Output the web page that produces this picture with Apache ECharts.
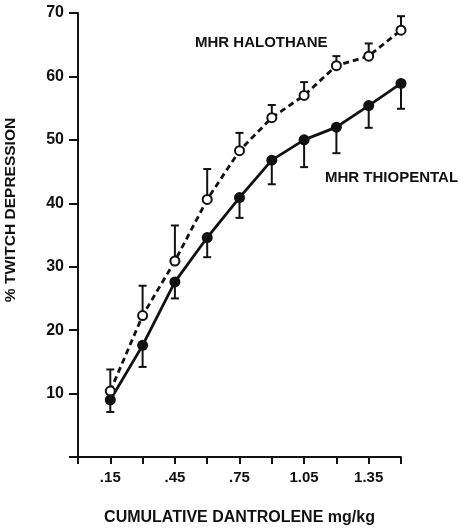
<!DOCTYPE html>
<html>
<head>
<meta charset="utf-8">
<script src="https://cdn.jsdelivr.net/npm/echarts@6/dist/echarts.min.js"></script>
<style>
  html, body { margin: 0; padding: 0; background: #fff; }
  #chart { width: 463px; height: 531px; }
</style>
</head>
<body>
<div id="chart"></div>
<script>
// dantrolene doses (mg/kg)
const doses = [0.15, 0.30, 0.45, 0.60, 0.75, 0.90, 1.05, 1.20, 1.35, 1.50];
// MHR halothane, mean and top of error bar
const halothane = [10.4, 22.3, 30.9, 40.6, 48.3, 53.5, 57.0, 61.7, 63.2, 67.3];
const halothaneUpper = [13.8, 27.0, 36.5, 45.4, 51.1, 55.5, 59.1, 63.2, 65.2, 69.5];
// MHR thiopental, mean and bottom of error bar
const thiopental = [9.0, 17.6, 27.6, 34.6, 40.9, 46.8, 50.0, 52.0, 55.4, 58.9];
const thiopentalLower = [7.1, 14.2, 25.0, 31.5, 37.7, 43.0, 45.7, 47.9, 51.9, 54.9];
const xLabels = ['.15', '.45', '.75', '1.05', '1.35'];

const font = '"Liberation Sans", Arial, Helvetica, sans-serif';
const chart = echarts.init(document.getElementById('chart'));

// error bar with a cap on one end
const errorBar = (params, api) => {
  const x = api.value(0);
  const p0 = api.coord([x, api.value(1)]);
  const p1 = api.coord([x, api.value(2)]);
  const style = { stroke: '#111', lineWidth: 2 };
  return {
    type: 'group',
    children: [
      { type: 'line', shape: { x1: p0[0], y1: p0[1], x2: p1[0], y2: p1[1] }, style },
      { type: 'line', shape: { x1: p1[0] - 4, y1: p1[1], x2: p1[0] + 4, y2: p1[1] }, style }
    ]
  };
};

const pairs = (ys) => doses.map((d, i) => [d, ys[i]]);

const option = {
  animation: false,
  grid: { left: 78, right: 62, top: 13, bottom: 63 },
  xAxis: {
    type: 'value',
    min: 0,
    max: 1.5,
    interval: 0.15,
    axisLine: { lineStyle: { color: '#111', width: 2 } },
    axisTick: { length: 7, lineStyle: { color: '#111', width: 2 } },
    splitLine: { show: false },
    axisLabel: {
      margin: 13,
      color: '#111',
      fontFamily: font,
      fontWeight: 'bold',
      fontSize: 15,
      formatter: (v) => {
        const s = v.toFixed(2).replace(/^0/, '');
        return xLabels.includes(s) ? s : '';
      }
    },
    name: 'CUMULATIVE DANTROLENE mg/kg',
    nameLocation: 'middle',
    nameGap: 53,
    nameTextStyle: { color: '#111', fontFamily: font, fontWeight: 'bold', fontSize: 16 }
  },
  yAxis: {
    type: 'value',
    min: 0,
    max: 70,
    interval: 10,
    axisLine: { show: true, lineStyle: { color: '#111', width: 2 } },
    axisTick: { show: true, length: 9, lineStyle: { color: '#111', width: 2 } },
    splitLine: { show: false },
    axisLabel: {
      margin: 14,
      color: '#111',
      fontFamily: font,
      fontWeight: 'bold',
      fontSize: 16,
      formatter: (v) => (v === 0 ? '' : String(v))
    }
  },
  graphic: [
    {
      type: 'text', left: 195, top: 35,
      style: { text: 'MHR HALOTHANE', font: 'bold 15px ' + font, fill: '#111' }
    },
    {
      type: 'text', left: 325, top: 170,
      style: { text: 'MHR THIOPENTAL', font: 'bold 15px ' + font, fill: '#111' }
    },
    {
      type: 'text', x: 11, y: 210, rotation: Math.PI / 2,
      style: {
        text: '% TWITCH DEPRESSION', font: 'bold 15.5px ' + font, fill: '#111',
        align: 'center', verticalAlign: 'middle'
      }
    }
  ],
  series: [
    {
      type: 'custom',
      renderItem: errorBar,
      data: doses.map((d, i) => [d, halothane[i], halothaneUpper[i]]),
      z: 1
    },
    {
      type: 'custom',
      renderItem: errorBar,
      data: doses.map((d, i) => [d, thiopental[i], thiopentalLower[i]]),
      z: 1
    },
    {
      name: 'MHR HALOTHANE',
      type: 'line',
      data: pairs(halothane),
      symbol: 'circle',
      symbolSize: 9,
      lineStyle: { color: '#111', width: 2.8, type: [6, 4] },
      itemStyle: { color: '#fff', borderColor: '#111', borderWidth: 2 },
      z: 3
    },
    {
      name: 'MHR THIOPENTAL',
      type: 'line',
      data: pairs(thiopental),
      symbol: 'circle',
      symbolSize: 11,
      lineStyle: { color: '#111', width: 2.8 },
      itemStyle: { color: '#111' },
      z: 3
    }
  ]
};
chart.setOption(option);
</script>
</body>
</html>
